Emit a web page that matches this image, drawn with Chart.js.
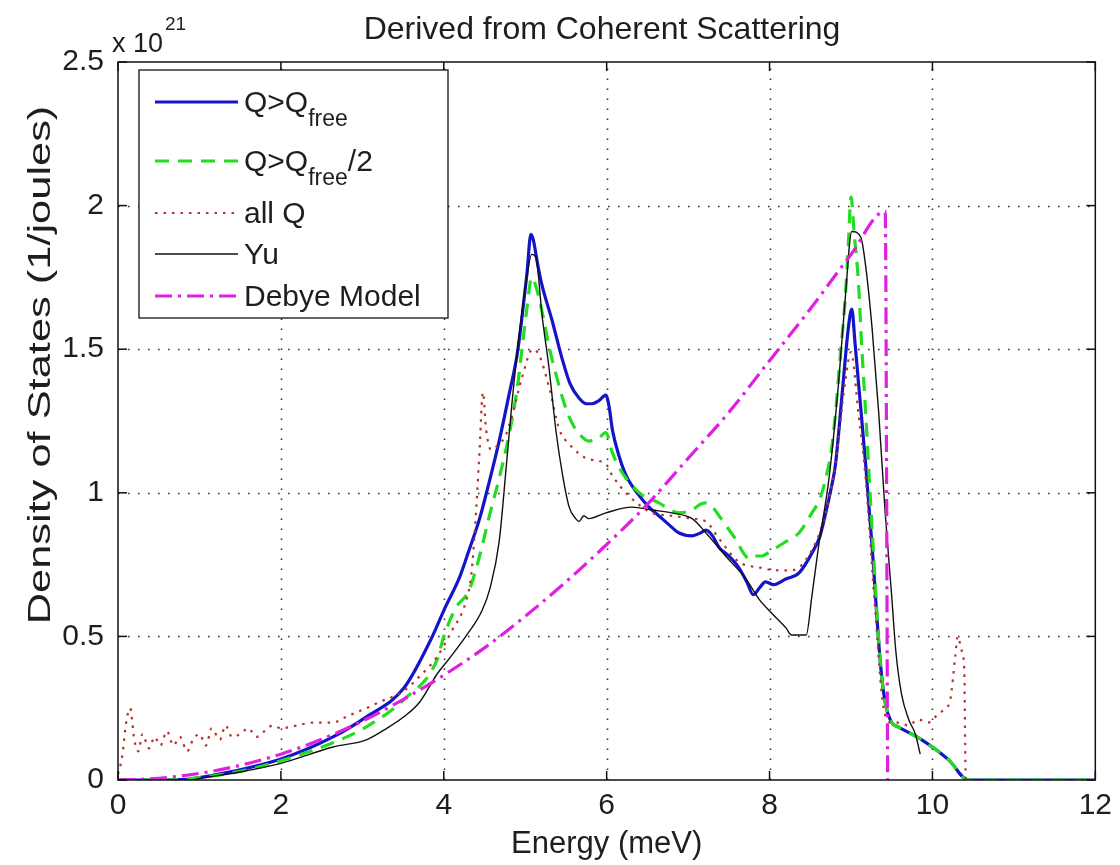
<!DOCTYPE html>
<html>
<head>
<meta charset="utf-8">
<title>Derived from Coherent Scattering</title>
<script src="https://cdn.jsdelivr.net/npm/chart.js@4.4.0/dist/chart.umd.min.js"></script>
<style>
  html, body { margin: 0; padding: 0; background: #fff; }
  #wrap { position: relative; width: 1120px; height: 865px; }
</style>
</head>
<body>
<div id="wrap"><canvas id="dosChart"></canvas></div>
<script>
// ========== DATA (density of states in units of 10^21 1/joules) ==========
const xTicks = [0, 2, 4, 6, 8, 10, 12];
const yTicks = [0, 0.5, 1, 1.5, 2, 2.5];
const legendLabels = ["Q>Q_{free}", "Q>Q_{free}/2", "all Q", "Yu", "Debye Model"];

// Q > Q_free
const qFreeE = [0, 0.45, 0.85, 1.0, 1.41, 2.0, 2.64, 3.05, 3.51, 3.86, 4.0, 4.2, 4.31, 4.44, 4.56,
  4.68, 4.8, 4.9, 4.96, 5.02, 5.07, 5.1, 5.15, 5.2, 5.33, 5.45, 5.55, 5.66, 5.75, 5.82,
  5.9, 5.99, 6.03, 6.07, 6.15, 6.24, 6.4, 6.52, 6.64, 6.76, 6.89, 7.05, 7.15, 7.22, 7.3,
  7.38, 7.5, 7.62, 7.72, 7.8, 7.88, 7.95, 8.05, 8.2, 8.36, 8.52, 8.62, 8.69, 8.76, 8.81,
  8.89, 8.97, 9.01, 9.05, 9.09, 9.18, 9.26, 9.36, 9.42, 9.5, 9.58, 9.87, 10.2, 10.44, 12];
const qFreeDos = [0, 0, 0.002, 0.008, 0.03, 0.073, 0.15, 0.22, 0.32, 0.5, 0.59, 0.71, 0.8, 0.91, 1.04,
  1.18, 1.34, 1.48, 1.61, 1.76, 1.9, 1.88, 1.8, 1.73, 1.6, 1.47, 1.38, 1.33, 1.31, 1.31,
  1.32, 1.34, 1.3, 1.22, 1.13, 1.06, 0.99, 0.95, 0.92, 0.89, 0.86, 0.85, 0.86, 0.87, 0.85,
  0.81, 0.78, 0.74, 0.69, 0.645, 0.67, 0.69, 0.68, 0.7, 0.72, 0.79, 0.85, 0.93, 1.02, 1.1,
  1.34, 1.58, 1.64, 1.52, 1.39, 1.1, 0.81, 0.41, 0.27, 0.2, 0.185, 0.14, 0.07, 0, 0];

// Q > Q_free / 2
const halfQE = [0, 0.6, 1.0, 1.5, 2.0, 2.64, 3.05, 3.51, 3.92, 4.0, 4.15, 4.31, 4.44, 4.56, 4.68,
  4.8, 4.9, 4.96, 5.02, 5.08, 5.13, 5.2, 5.3, 5.38, 5.48, 5.58, 5.68, 5.78, 5.9, 5.99,
  6.07, 6.15, 6.24, 6.4, 6.64, 6.89, 7.05, 7.15, 7.22, 7.3, 7.38, 7.48, 7.58, 7.68, 7.75,
  7.82, 7.9, 8.03, 8.2, 8.36, 8.52, 8.62, 8.69, 8.76, 8.81, 8.87, 8.93, 8.97, 9.0, 9.04,
  9.09, 9.13, 9.18, 9.26, 9.36, 9.42, 9.5, 9.58, 9.87, 10.2, 10.44, 12];
const halfQDos = [0, 0, 0.008, 0.03, 0.067, 0.13, 0.185, 0.28, 0.42, 0.5, 0.6, 0.66, 0.78, 0.92, 1.05,
  1.2, 1.36, 1.5, 1.64, 1.75, 1.72, 1.64, 1.5, 1.41, 1.31, 1.24, 1.2, 1.18, 1.19, 1.21,
  1.14, 1.09, 1.05, 1.0, 0.965, 0.93, 0.94, 0.96, 0.965, 0.95, 0.92, 0.88, 0.84, 0.79, 0.77,
  0.78, 0.78, 0.8, 0.83, 0.86, 0.93, 0.98, 1.05, 1.15, 1.28, 1.48, 1.68, 1.88, 2.03, 1.9,
  1.74, 1.52, 1.28, 0.87, 0.41, 0.27, 0.2, 0.185, 0.14, 0.07, 0, 0];

// all Q
const allQE = [0, 0.05, 0.1, 0.15, 0.2, 0.25, 0.3, 0.38, 0.45, 0.52, 0.6, 0.68, 0.76, 0.85, 0.92,
  1.0, 1.08, 1.15, 1.25, 1.32, 1.4, 1.5, 1.6, 1.7, 1.8, 1.9, 2.0, 2.2, 2.4, 2.64,
  2.8, 3.05, 3.2, 3.51, 3.7, 3.92, 4.1, 4.27, 4.34, 4.4, 4.44, 4.48, 4.52, 4.58, 4.68,
  4.76, 4.84, 4.96, 5.09, 5.17, 5.3, 5.42, 5.54, 5.75, 5.99, 6.07, 6.27, 6.56, 6.8, 7.05,
  7.22, 7.38, 7.62, 7.87, 8.11, 8.27, 8.52, 8.69, 8.81, 8.93, 9.0, 9.09, 9.18, 9.3, 9.4,
  9.5, 9.6, 9.7, 9.83, 9.95, 10.07, 10.16, 10.22, 10.28, 10.31, 10.36, 10.39, 10.41, 12];
const allQDos = [0.02, 0.08, 0.2, 0.25, 0.14, 0.1, 0.16, 0.11, 0.15, 0.12, 0.17, 0.12, 0.15, 0.1, 0.14,
  0.16, 0.12, 0.18, 0.14, 0.19, 0.15, 0.16, 0.18, 0.15, 0.17, 0.19, 0.18, 0.19, 0.2, 0.2,
  0.22, 0.25, 0.27, 0.31, 0.36, 0.43, 0.52, 0.62, 0.72, 0.95, 1.15, 1.35, 1.22, 1.15, 1.17,
  1.2, 1.27, 1.4, 1.5, 1.48, 1.36, 1.22, 1.17, 1.12, 1.1, 1.06, 0.99, 0.93, 0.92, 0.91,
  0.9, 0.84, 0.76, 0.74, 0.73, 0.73, 0.8, 0.93, 1.1, 1.39, 1.49, 1.28, 1.05, 0.58, 0.25,
  0.2, 0.2, 0.19, 0.21, 0.2, 0.23, 0.25, 0.28, 0.43, 0.5, 0.45, 0.39, 0, 0];

// Yu
const yuE = [0, 0.9, 1.0, 1.5, 2.0, 2.64, 3.05, 3.3, 3.51, 3.7, 3.92, 4.06, 4.27, 4.47, 4.57,
  4.68, 4.77, 4.84, 4.93, 5.01, 5.08, 5.13, 5.21, 5.29, 5.38, 5.46, 5.54, 5.62, 5.66, 5.72,
  5.78, 5.99, 6.31, 6.56, 6.8, 7.05, 7.22, 7.46, 7.71, 7.87, 8.03, 8.2, 8.27, 8.45, 8.52,
  8.6, 8.73, 8.85, 8.93, 9.01, 9.12, 9.18, 9.26, 9.34, 9.42, 9.5, 9.55, 9.62, 9.71, 9.79, 9.85];
const yuDos = [0, 0, 0.005, 0.028, 0.058, 0.115, 0.14, 0.18, 0.22, 0.27, 0.37, 0.42, 0.5, 0.59, 0.67,
  0.83, 1.1, 1.32, 1.56, 1.73, 1.83, 1.82, 1.61, 1.44, 1.21, 1.06, 0.95, 0.91, 0.9, 0.92,
  0.91, 0.93, 0.95, 0.94, 0.93, 0.91, 0.86, 0.78, 0.7, 0.63, 0.58, 0.53, 0.505, 0.505, 0.64,
  0.81, 1.05, 1.39, 1.68, 1.91, 1.89, 1.79, 1.57, 1.28, 0.93, 0.64, 0.45, 0.3, 0.21, 0.16, 0.09];

// Debye model
const debyeE = [0, 0.5, 1, 1.5, 2, 2.5, 3, 3.5, 4, 4.5, 5, 5.5, 6, 6.5, 7, 7.5, 8, 8.5, 9, 9.42, 9.45];
const debyeDos = [0, 0.006, 0.023, 0.051, 0.09, 0.142, 0.205, 0.28, 0.365, 0.46, 0.57, 0.69, 0.82, 0.96,
  1.12, 1.28, 1.46, 1.64, 1.83, 1.98, 0];

// ========== HELPERS ==========
const FONT = "'Liberation Sans', Arial, Helvetica, sans-serif";
const TEXT = "#1e1e1e";
const toPoints = (xs, ys) => xs.map((x, i) => ({ x: x, y: ys[i] }));

function line(ctx, x1, y1, x2, y2) {
  ctx.beginPath();
  ctx.moveTo(x1, y1);
  ctx.lineTo(x2, y2);
  ctx.stroke();
}

// draws "Q>Q_{free}/2" style text with a subscript
function drawRich(ctx, str, x, y, size) {
  const parts = str.split(/_\{([^}]*)\}/);
  let cx = x;
  parts.forEach((p, i) => {
    if (!p) return;
    const sub = i % 2 === 1;
    ctx.font = (sub ? Math.round(size * 0.76) : size) + "px " + FONT;
    ctx.fillText(p, cx, sub ? y + 14 : y);
    cx += ctx.measureText(p).width;
  });
}

// ======== MATLAB-LOOK FRAME, TEXTS AND LEGEND ========
const matlabFrame = {
  id: "matlabFrame",
  beforeDatasetsDraw(chart) {
    const { ctx, chartArea: a, scales: { x, y } } = chart;
    ctx.save();
    ctx.strokeStyle = "#333";
    ctx.lineWidth = 1.6;
    ctx.setLineDash([1.6, 8.4]);
    xTicks.slice(1, -1).forEach((v) => {
      const px = Math.round(x.getPixelForValue(v)) + 0.5;
      line(ctx, px, a.bottom, px, a.top);
    });
    yTicks.slice(1, -1).forEach((v) => {
      const py = Math.round(y.getPixelForValue(v)) + 0.5;
      line(ctx, a.left, py, a.right, py);
    });
    ctx.restore();
  },
  afterDatasetsDraw(chart) {
    const { ctx, chartArea: a, scales: { x, y } } = chart;
    ctx.save();
    ctx.strokeStyle = "#111";
    ctx.lineWidth = 1.5;
    ctx.strokeRect(a.left, a.top, a.right - a.left, a.bottom - a.top);
    const tl = 9;
    xTicks.forEach((v) => {
      const px = x.getPixelForValue(v);
      line(ctx, px, a.bottom, px, a.bottom - tl);
      line(ctx, px, a.top, px, a.top + tl);
    });
    yTicks.forEach((v) => {
      const py = y.getPixelForValue(v);
      line(ctx, a.left, py, a.left + tl, py);
      line(ctx, a.right, py, a.right - tl, py);
    });
    ctx.restore();
  },
  afterDraw(chart) {
    const { ctx, chartArea: a } = chart;
    ctx.save();
    ctx.fillStyle = TEXT;

    // title
    ctx.textAlign = "center";
    ctx.textBaseline = "alphabetic";
    ctx.font = "32px " + FONT;
    ctx.fillText("Derived from Coherent Scattering", 602, 39);

    // x axis title
    ctx.font = "31px " + FONT;
    ctx.fillText("Energy (meV)", (a.left + a.right) / 2, 853);

    // y axis title (stretched along its length like the source figure)
    ctx.save();
    ctx.translate(50, 365);
    ctx.rotate(-Math.PI / 2);
    ctx.scale(1.4, 1);
    ctx.font = "31px " + FONT;
    ctx.fillText("Density of States (1/joules)", 0, 0);
    ctx.restore();

    // exponent
    ctx.textAlign = "left";
    ctx.font = "27px " + FONT;
    ctx.fillText("x 10", 112, 52);
    ctx.font = "19px " + FONT;
    ctx.fillText("21", 165, 30);

    // legend box
    const lx = 139, ly = 70, lw = 309, lh = 248;
    ctx.fillStyle = "#fff";
    ctx.fillRect(lx, ly, lw, lh);
    ctx.strokeStyle = "#111";
    ctx.lineWidth = 1.3;
    ctx.strokeRect(lx, ly, lw, lh);

    const rowY = [102, 161, 213, 254, 296];
    const sets = chart.data.datasets;
    legendLabels.forEach((lab, i) => {
      const ds = sets[i];
      ctx.save();
      ctx.strokeStyle = ds.borderColor;
      ctx.lineWidth = ds.borderWidth;
      ctx.setLineDash(ds.borderDash || []);
      line(ctx, 155, rowY[i], 238, rowY[i]);
      ctx.restore();
      ctx.fillStyle = TEXT;
      drawRich(ctx, lab, 244, rowY[i] + 10, 30);
    });
    ctx.restore();
  },
};

// ======== CHART ========
const ctx = document.getElementById("dosChart");
const lineBase = { pointRadius: 0, fill: false, cubicInterpolationMode: "monotone" };

new Chart(ctx, {
  type: "line",
  data: {
    datasets: [
      { ...lineBase, label: "Q>Qfree", data: toPoints(qFreeE, qFreeDos),
        borderColor: "#1414c8", borderWidth: 3.2, order: 5 },
      { ...lineBase, label: "Q>Qfree/2", data: toPoints(halfQE, halfQDos),
        borderColor: "#22dd22", borderWidth: 3.2, borderDash: [14, 9], order: 4 },
      { ...lineBase, label: "all Q", data: toPoints(allQE, allQDos),
        borderColor: "#b8322a", borderWidth: 2.2, borderDash: [2.5, 6], order: 3 },
      { ...lineBase, label: "Yu", data: toPoints(yuE, yuDos),
        borderColor: "#111", borderWidth: 1.4, order: 2 },
      { ...lineBase, label: "Debye Model", data: toPoints(debyeE, debyeDos),
        borderColor: "#e020e0", borderWidth: 3.2, borderDash: [17, 6, 3, 6], order: 1 },
    ],
  },
  options: {
    responsive: true,
    maintainAspectRatio: false,
    animation: false,
    layout: { padding: { top: 62, right: 23, bottom: 0, left: 0 } },
    plugins: {
      legend: { display: false },
      tooltip: { enabled: false },
      title: { display: false },
    },
    scales: {
      x: {
        type: "linear",
        min: 0,
        max: 12,
        afterBuildTicks: (s) => { s.ticks = xTicks.map((v) => ({ value: v })); },
        afterFit: (s) => { s.height = 85; },
        grid: { display: false, drawTicks: false },
        border: { display: false },
        ticks: { color: TEXT, padding: 8, maxRotation: 0, autoSkip: false,
          font: { family: FONT, size: 30 }, callback: (v) => String(v) },
      },
      y: {
        type: "linear",
        min: 0,
        max: 2.5,
        afterBuildTicks: (s) => { s.ticks = yTicks.map((v) => ({ value: v })); },
        afterFit: (s) => { s.width = 118; },
        grid: { display: false, drawTicks: false },
        border: { display: false },
        ticks: { color: TEXT, padding: 14, autoSkip: false,
          font: { family: FONT, size: 30 }, callback: (v) => String(v) },
      },
    },
  },
  plugins: [matlabFrame],
});
</script>
</body>
</html>
